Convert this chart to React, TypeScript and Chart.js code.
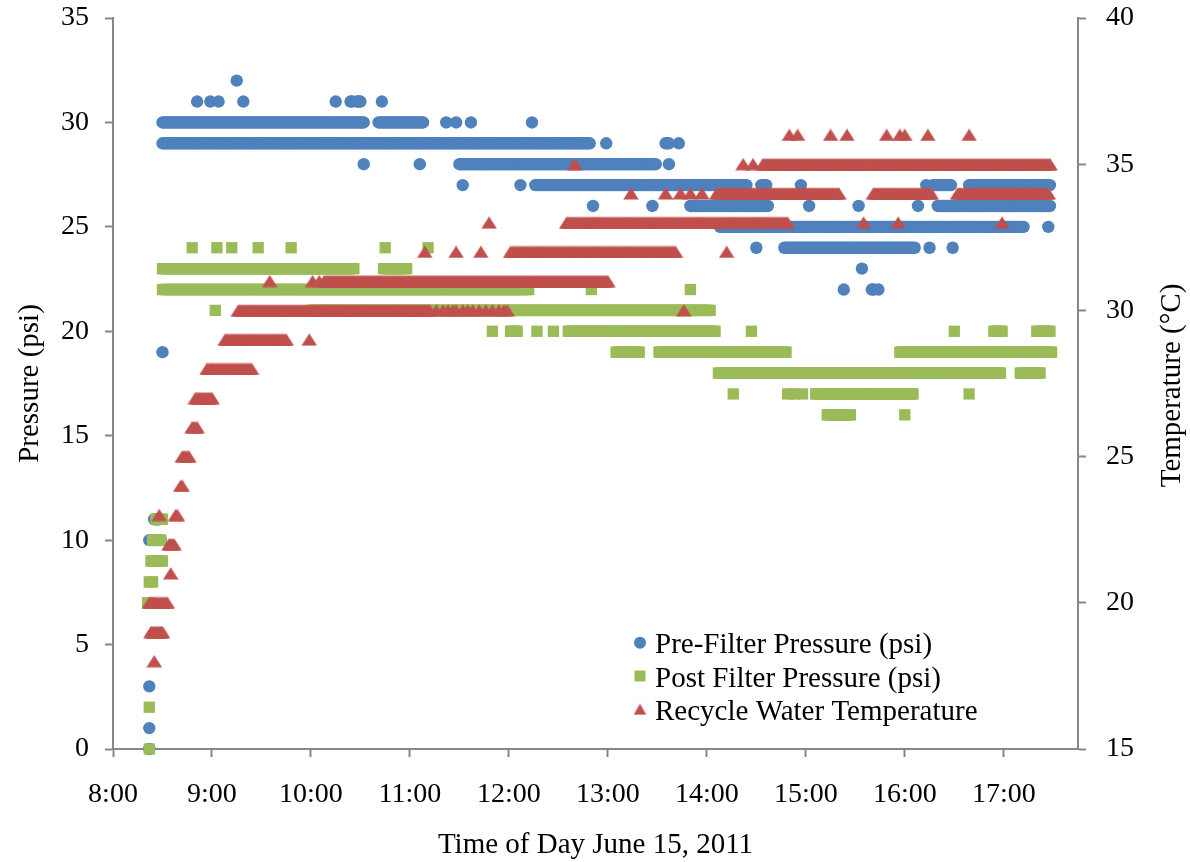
import React, { useEffect, useRef } from 'react';
import { Chart, registerables } from 'chart.js';

Chart.register(...registerables);

type Run = [string, string, number];

// ---------- data ----------
const X_TICKS = ['8:00', '9:00', '10:00', '11:00', '12:00', '13:00', '14:00', '15:00', '16:00', '17:00'];
const X_RANGE = ['8:00', '17:45'];
const PRESSURE_TICKS = [0, 5, 10, 15, 20, 25, 30, 35];
const TEMP_TICKS = [15, 20, 25, 30, 35, 40];

const SERIES_NAMES = ['Pre-Filter Pressure (psi)', 'Post Filter Pressure (psi)', 'Recycle Water Temperature'];
const X_TITLE = 'Time of Day June 15, 2011';
const Y_TITLE = 'Pressure (psi)';
const Y1_TITLE = 'Temperature (°C)';

// runs of identical one-minute readings: [from, to, value]
const PRE_RUNS: Run[] = [
  ['8:22', '8:22', 0], ['8:22', '8:22', 1], ['8:22', '8:22', 3],
  ['8:22', '8:29', 10], ['8:25', '8:28', 11], ['8:30', '8:30', 19],
  ['8:30', '10:32', 30], ['10:41', '11:08', 30],
  ['11:22', '11:22', 30], ['11:28', '11:28', 30], ['11:37', '11:37', 30], ['12:14', '12:14', 30],
  ['8:30', '12:49', 29], ['12:59', '12:59', 29], ['13:35', '13:37', 29], ['13:43', '13:43', 29],
  ['8:51', '8:51', 31], ['8:59', '8:59', 31], ['9:04', '9:04', 31], ['9:19', '9:19', 31],
  ['10:15', '10:15', 31], ['10:24', '10:25', 31], ['10:28', '10:30', 31], ['10:43', '10:43', 31],
  ['9:15', '9:15', 32],
  ['10:32', '10:32', 28], ['11:06', '11:06', 28], ['11:30', '13:29', 28], ['13:37', '13:37', 28],
  ['11:32', '11:32', 27], ['12:07', '12:07', 27], ['12:16', '14:24', 27], ['14:33', '14:36', 27],
  ['14:57', '14:57', 27], ['16:13', '16:13', 27], ['16:17', '16:28', 27], ['16:39', '17:28', 27],
  ['12:51', '12:51', 26], ['13:27', '13:27', 26], ['13:50', '14:37', 26], ['15:02', '15:02', 26],
  ['15:32', '15:32', 26], ['16:08', '16:08', 26], ['16:20', '17:28', 26],
  ['14:08', '17:12', 25], ['17:27', '17:27', 25],
  ['14:30', '14:30', 24], ['14:47', '16:06', 24], ['16:15', '16:15', 24], ['16:29', '16:29', 24],
  ['15:34', '15:34', 23],
  ['15:23', '15:23', 22], ['15:40', '15:41', 22], ['15:44', '15:44', 22],
];

const POST_RUNS: Run[] = [
  ['8:22', '8:22', 0], ['8:22', '8:22', 2], ['8:21', '8:22', 7], ['8:22', '8:24', 8],
  ['8:23', '8:30', 9], ['8:24', '8:29', 10], ['8:26', '8:30', 11],
  ['8:48', '8:48', 24], ['9:03', '9:03', 24], ['9:12', '9:12', 24], ['9:28', '9:28', 24],
  ['9:48', '9:48', 24], ['10:45', '10:45', 24], ['11:11', '11:11', 24],
  ['8:30', '10:26', 23], ['10:44', '10:58', 23],
  ['8:30', '12:12', 22], ['12:50', '12:50', 22], ['13:50', '13:50', 22],
  ['9:02', '9:02', 21], ['10:00', '14:02', 21],
  ['11:50', '11:50', 20], ['12:01', '12:05', 20], ['12:17', '12:17', 20], ['12:27', '12:27', 20],
  ['12:36', '14:05', 20], ['14:27', '14:27', 20], ['16:30', '16:30', 20], ['16:54', '16:59', 20],
  ['17:20', '17:28', 20],
  ['13:05', '13:19', 19], ['13:31', '14:48', 19], ['15:57', '17:29', 19],
  ['14:07', '16:58', 18], ['17:10', '17:22', 18],
  ['14:16', '14:16', 17], ['14:49', '14:49', 17], ['14:53', '14:53', 17], ['14:58', '14:58', 17],
  ['15:06', '16:05', 17], ['16:39', '16:39', 17],
  ['15:13', '15:27', 16], ['16:00', '16:00', 16],
];

const TEMP_RUNS: Run[] = [
  ['8:25', '8:25', 18], ['8:23', '8:30', 19], ['8:22', '8:33', 20], ['8:35', '8:35', 21],
  ['8:34', '8:37', 22], ['8:28', '8:28', 23], ['8:38', '8:39', 23], ['8:41', '8:42', 24],
  ['8:42', '8:46', 25], ['8:48', '8:51', 26], ['8:50', '9:00', 27], ['8:57', '9:24', 28],
  ['9:08', '9:45', 29], ['9:59', '9:59', 29],
  ['9:16', '11:12', 30], ['11:16', '11:16', 30], ['11:20', '11:20', 30], ['11:23', '11:23', 30],
  ['11:26', '11:26', 30], ['11:28', '11:28', 30], ['11:32', '11:32', 30], ['11:35', '11:35', 30],
  ['11:38', '11:38', 30], ['11:42', '11:42', 30], ['11:46', '11:46', 30], ['11:50', '11:50', 30],
  ['11:54', '11:54', 30], ['11:57', '11:57', 30], ['11:59', '11:59', 30], ['13:46', '13:46', 30],
  ['9:35', '9:35', 31], ['10:01', '10:01', 31], ['10:05', '10:05', 31], ['10:08', '13:00', 31],
  ['11:09', '11:09', 32], ['11:28', '11:28', 32], ['11:43', '11:43', 32], ['12:01', '13:41', 32],
  ['14:12', '14:12', 32],
  ['11:48', '11:48', 33], ['12:35', '14:49', 33], ['15:35', '15:35', 33], ['15:56', '15:56', 33],
  ['16:59', '16:59', 33],
  ['13:14', '13:14', 34], ['13:35', '13:35', 34], ['13:44', '13:44', 34], ['13:50', '13:50', 34],
  ['13:57', '13:57', 34], ['14:06', '15:20', 34], ['15:41', '16:16', 34], ['16:32', '17:27', 34],
  ['12:40', '12:40', 35], ['14:22', '14:22', 35], ['14:28', '14:28', 35], ['14:34', '17:28', 35],
  ['14:50', '14:50', 36], ['14:55', '14:55', 36], ['15:15', '15:15', 36], ['15:25', '15:25', 36],
  ['15:49', '15:49', 36], ['15:57', '15:57', 36], ['16:00', '16:00', 36], ['16:14', '16:14', 36],
  ['16:39', '16:39', 36],
];

// ---------- helpers ----------
const BLUE = '#4F81BD';
const GREEN = '#9BBB59';
const RED = '#C0504D';
const AXIS = '#878787';
const FONT = '"Liberation Serif", "Times New Roman", serif';

const toMin = (s: string) => {
  const [h, m] = s.split(':').map(Number);
  return h * 60 + m;
};
const fmt = (v: number) => `${Math.floor(v / 60)}:${String(Math.round(v % 60)).padStart(2, '0')}`;

function expand(runs: Run[]) {
  const pts: { x: number; y: number }[] = [];
  for (const [a, b, v] of runs) {
    for (let t = toMin(a); t <= toMin(b); t++) pts.push({ x: t, y: v });
  }
  return pts;
}

function makeTriangle(w: number, h: number, color: string) {
  const c = document.createElement('canvas');
  c.width = w;
  c.height = h;
  const g = c.getContext('2d')!;
  g.fillStyle = color;
  g.beginPath();
  g.moveTo(w / 2, 0.3);
  g.lineTo(w - 0.2, h - 0.4);
  g.lineTo(0.2, h - 0.4);
  g.closePath();
  g.fill();
  return c;
}

export default function App() {
  const ref = useRef<HTMLCanvasElement>(null);

  useEffect(() => {
    const canvas = ref.current!;
    const tri = makeTriangle(16, 13, RED);
    const legendTri = makeTriangle(13, 12, RED);

    const overlay = {
      id: 'overlay',
      afterDraw(chart: any) {
        const ctx = chart.ctx as CanvasRenderingContext2D;
        const { left, right, top, bottom } = chart.chartArea;
        ctx.save();
        ctx.fillStyle = '#000';
        ctx.font = `29px ${FONT}`;
        ctx.textAlign = 'center';
        ctx.textBaseline = 'middle';
        ctx.fillText(X_TITLE, (left + right) / 2, 845);
        ctx.save();
        ctx.translate(30, (top + bottom) / 2);
        ctx.rotate(-Math.PI / 2);
        ctx.fillText(Y_TITLE, 0, 0);
        ctx.restore();
        ctx.save();
        ctx.translate(1172, (top + bottom) / 2 + 2);
        ctx.rotate(-Math.PI / 2);
        ctx.fillText(Y1_TITLE, 0, 0);
        ctx.restore();

        // legend
        const lx = 640;
        const rows = [642.7, 676, 709.3];
        ctx.fillStyle = BLUE;
        ctx.beginPath();
        ctx.arc(lx, rows[0], 6, 0, Math.PI * 2);
        ctx.fill();
        ctx.fillStyle = GREEN;
        ctx.fillRect(lx - 5.5, rows[1] - 5.5, 11, 11);
        ctx.drawImage(legendTri, lx - legendTri.width / 2, rows[2] - legendTri.height / 2);
        ctx.fillStyle = '#000';
        ctx.textAlign = 'left';
        ctx.textBaseline = 'alphabetic';
        SERIES_NAMES.forEach((name, i) => ctx.fillText(name, 655, rows[i] + 10.6));
        ctx.restore();
      },
    };

    const fitVertical = (w: number) => (s: any) => {
      s.width = w;
      s.paddingTop = 0;
      s.paddingBottom = 0;
    };

    const chart = new Chart(canvas, {
      type: 'scatter',
      data: {
        datasets: [
          {
            label: SERIES_NAMES[0],
            data: expand(PRE_RUNS),
            yAxisID: 'y',
            pointStyle: 'circle',
            pointRadius: 6.2,
            pointBackgroundColor: BLUE,
            pointBorderWidth: 0,
            pointBorderColor: BLUE,
            order: 2,
            clip: false as any,
          },
          {
            label: SERIES_NAMES[1],
            data: expand(POST_RUNS),
            yAxisID: 'y',
            pointStyle: 'rect',
            pointRadius: 8,
            pointBackgroundColor: GREEN,
            pointBorderWidth: 0,
            pointBorderColor: GREEN,
            order: 1,
            clip: false as any,
          },
          {
            label: SERIES_NAMES[2],
            data: expand(TEMP_RUNS),
            yAxisID: 'y1',
            pointStyle: tri as any,
            pointRadius: 8,
            pointBackgroundColor: RED,
            pointBorderWidth: 0,
            order: 0,
            clip: false as any,
          },
        ],
      },
      options: {
        responsive: false,
        animation: false,
        devicePixelRatio: 1,
        events: [],
        layout: { padding: { top: 18, left: 0, right: 0, bottom: 0 } },
        plugins: { legend: { display: false }, tooltip: { enabled: false } },
        scales: {
          x: {
            type: 'linear',
            min: toMin(X_RANGE[0]),
            max: toMin(X_RANGE[1]),
            afterBuildTicks: (s: any) => {
              s.ticks = X_TICKS.map((t) => ({ value: toMin(t) }));
            },
            afterFit: (s: any) => {
              s.height = 113;
              s.paddingLeft = 0;
              s.paddingRight = 0;
            },
            ticks: {
              autoSkip: false,
              maxRotation: 0,
              padding: 21,
              color: '#000',
              font: { family: FONT, size: 28 },
              callback: (v: any) => fmt(Number(v)),
            },
            grid: { drawOnChartArea: false, tickLength: 8, tickColor: AXIS, tickWidth: 2 },
            border: { color: AXIS, width: 2 },
          },
          y: {
            type: 'linear',
            position: 'left',
            min: 0,
            max: 35,
            afterBuildTicks: (s: any) => {
              s.ticks = PRESSURE_TICKS.map((v) => ({ value: v }));
            },
            afterFit: fitVertical(113),
            ticks: { padding: 16, color: '#000', font: { family: FONT, size: 28 } },
            grid: { drawOnChartArea: false, tickLength: 8, tickColor: AXIS, tickWidth: 2 },
            border: { color: AXIS, width: 2 },
          },
          y1: {
            type: 'linear',
            position: 'right',
            min: 15,
            max: 40,
            afterBuildTicks: (s: any) => {
              s.ticks = TEMP_TICKS.map((v) => ({ value: v }));
            },
            afterFit: fitVertical(112),
            ticks: { padding: 20, color: '#000', font: { family: FONT, size: 28 } },
            grid: { drawOnChartArea: false, tickLength: 8, tickColor: AXIS, tickWidth: 2 },
            border: { color: AXIS, width: 2 },
          },
        },
      },
      plugins: [overlay],
    });
    return () => chart.destroy();
  }, []);

  return (
    <div style={{ position: 'absolute', left: 0, top: 0, width: 1190, height: 862, background: '#fff' }}>
      <canvas ref={ref} width={1190} height={862} style={{ display: 'block', width: 1190, height: 862 }} />
    </div>
  );
}
